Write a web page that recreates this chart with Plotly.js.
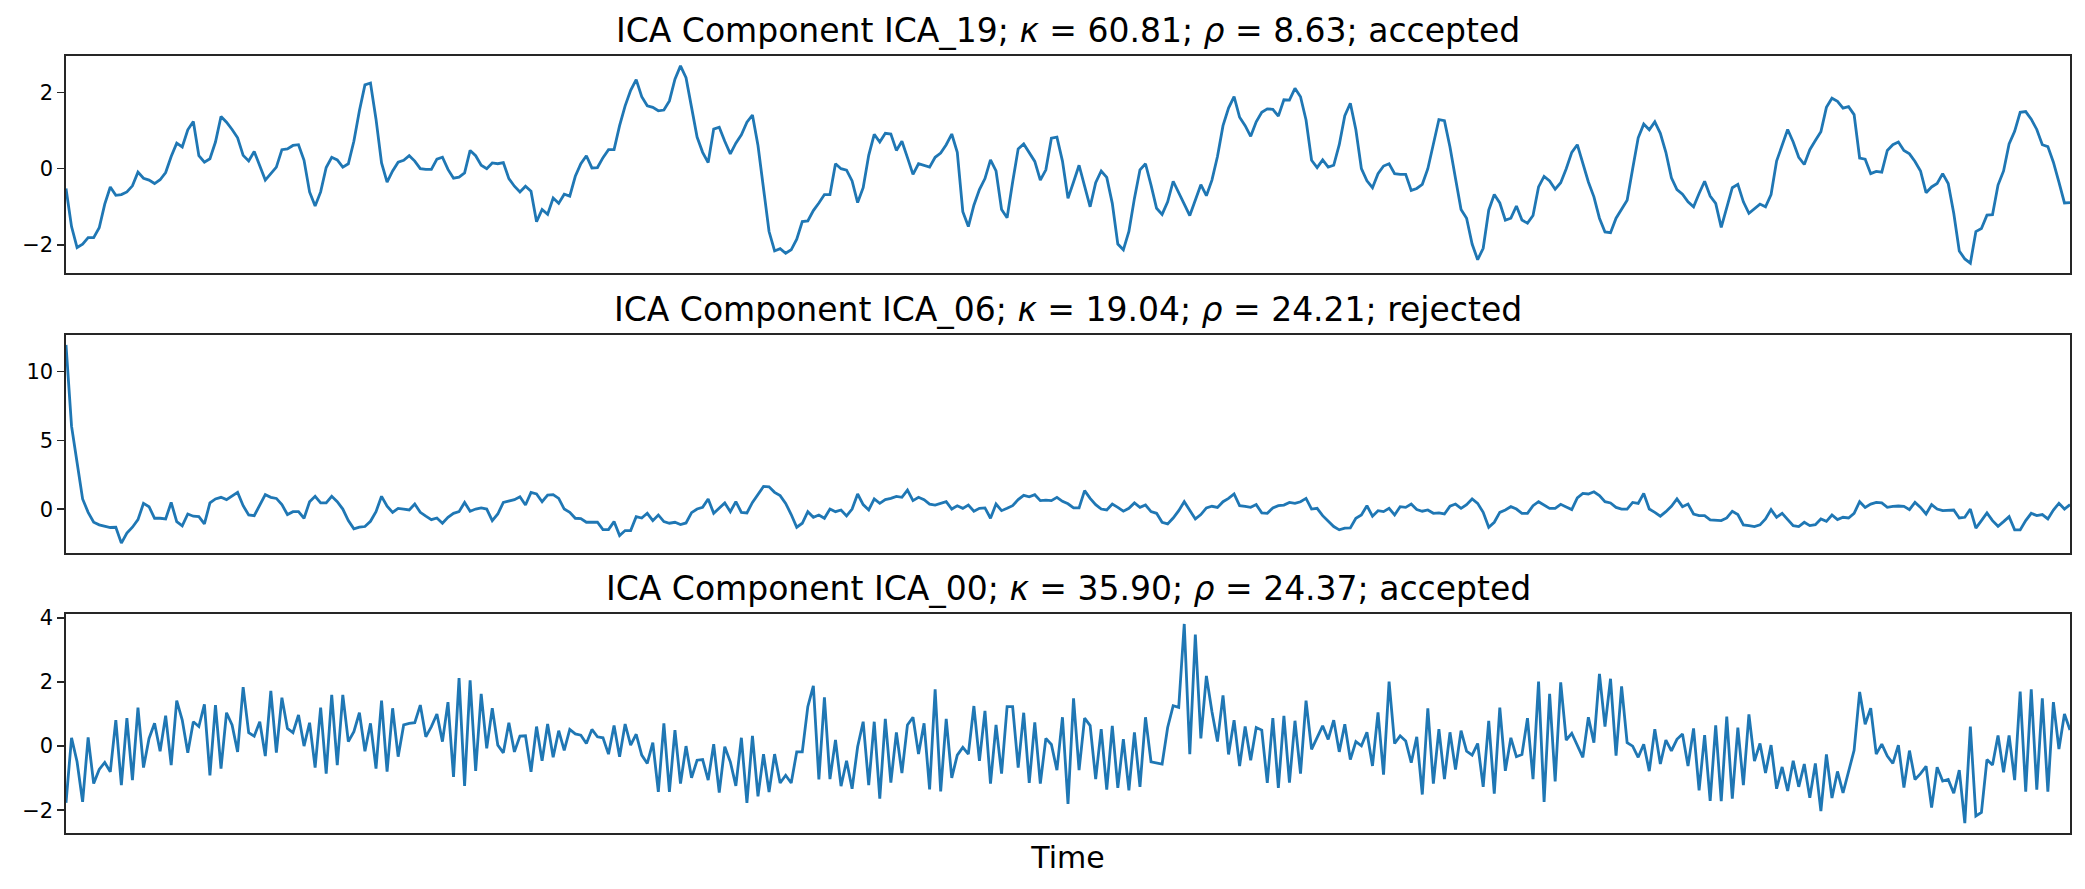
<!DOCTYPE html>
<html>
<head>
<meta charset="utf-8">
<script src="https://cdn.plot.ly/plotly-3.0.1.min.js"></script>
<style>html,body{margin:0;padding:0;background:#fff;}#chart{width:2085px;height:889px;}</style>
</head>
<body>
<div id="chart"></div>
<script>
// ---- Data ----
const titles = [
  "ICA Component ICA_19; <i>κ</i> = 60.81; <i>ρ</i> = 8.63; accepted",
  "ICA Component ICA_06; <i>κ</i> = 19.04; <i>ρ</i> = 24.21; rejected",
  "ICA Component ICA_00; <i>κ</i> = 35.90; <i>ρ</i> = 24.37; accepted"
];
const xLabel = "Time";

const ica19 = [
-0.52,-1.52,-2.07,-1.98,-1.81,-1.81,-1.55,-0.93,-0.48,-0.70,
-0.68,-0.61,-0.45,-0.09,-0.25,-0.30,-0.39,-0.29,-0.10,0.32,
0.67,0.57,1.02,1.24,0.34,0.17,0.26,0.70,1.37,1.22,
1.03,0.81,0.35,0.20,0.45,0.09,-0.30,-0.13,0.04,0.50,
0.52,0.61,0.63,0.22,-0.61,-0.98,-0.61,0.03,0.30,0.23,
0.04,0.13,0.72,1.52,2.20,2.25,1.30,0.15,-0.35,-0.06,
0.17,0.22,0.34,0.20,0.00,-0.02,-0.02,0.25,0.30,-0.02,
-0.25,-0.22,-0.11,0.48,0.34,0.09,0.00,0.15,0.13,0.16,
-0.26,-0.46,-0.61,-0.46,-0.59,-1.39,-1.07,-1.20,-0.77,-0.91,
-0.67,-0.72,-0.20,0.13,0.34,0.02,0.03,0.29,0.50,0.50,
1.13,1.65,2.06,2.34,1.89,1.65,1.61,1.52,1.54,1.78,
2.35,2.70,2.39,1.61,0.83,0.43,0.16,1.04,1.09,0.72,
0.39,0.67,0.89,1.22,1.41,0.61,-0.57,-1.65,-2.16,-2.10,
-2.22,-2.13,-1.85,-1.39,-1.37,-1.10,-0.90,-0.68,-0.68,0.13,
0.00,-0.04,-0.32,-0.89,-0.50,0.35,0.90,0.70,0.93,0.91,
0.48,0.72,0.29,-0.15,0.13,0.09,0.04,0.30,0.41,0.63,
0.91,0.43,-1.13,-1.52,-0.96,-0.55,-0.26,0.23,-0.06,-1.07,
-1.29,-0.35,0.52,0.65,0.43,0.19,-0.30,-0.03,0.80,0.83,
0.20,-0.78,-0.35,0.09,-0.46,-1.00,-0.37,-0.06,-0.23,-0.91,
-1.98,-2.13,-1.65,-0.78,-0.03,0.13,-0.43,-1.04,-1.20,-0.87,
-0.33,-0.61,-0.93,-1.23,-0.83,-0.42,-0.71,-0.30,0.32,1.13,
1.59,1.89,1.35,1.13,0.85,1.23,1.48,1.57,1.56,1.38,
1.81,1.80,2.11,1.89,1.28,0.22,0.03,0.23,0.04,0.09,
0.63,1.39,1.72,1.02,0.00,-0.32,-0.50,-0.13,0.07,0.13,
-0.13,-0.15,-0.15,-0.57,-0.52,-0.41,0.00,0.65,1.29,1.26,
0.57,-0.26,-1.07,-1.30,-1.98,-2.39,-2.09,-1.09,-0.68,-0.90,
-1.35,-1.30,-0.98,-1.35,-1.43,-1.23,-0.48,-0.20,-0.32,-0.54,
-0.37,0.00,0.43,0.63,0.17,-0.35,-0.74,-1.30,-1.66,-1.68,
-1.30,-1.07,-0.83,0.00,0.81,1.17,1.02,1.23,0.93,0.43,
-0.24,-0.55,-0.67,-0.87,-1.00,-0.65,-0.33,-0.72,-0.91,-1.54,
-1.02,-0.50,-0.41,-0.87,-1.17,-1.06,-0.93,-1.00,-0.68,0.20,
0.63,1.03,0.70,0.30,0.11,0.50,0.74,0.97,1.61,1.85,
1.77,1.59,1.63,1.42,0.28,0.25,-0.13,-0.07,-0.09,0.48,
0.63,0.70,0.48,0.39,0.19,-0.06,-0.63,-0.48,-0.39,-0.13,
-0.39,-1.17,-2.16,-2.37,-2.48,-1.65,-1.57,-1.22,-1.21,-0.43,
-0.06,0.65,0.98,1.48,1.50,1.30,1.03,0.63,0.58,0.17,
-0.35,-0.90,-0.89
];

const ica06 = [
11.92,6.03,3.39,0.75,-0.22,-0.94,-1.13,-1.25,-1.32,-1.30,
-2.45,-1.73,-1.30,-0.75,0.43,0.19,-0.65,-0.65,-0.70,0.50,
-0.89,-1.20,-0.34,-0.50,-0.53,-1.06,0.46,0.75,0.87,0.70,
0.94,1.23,0.26,-0.41,-0.46,0.26,1.06,0.87,0.79,0.34,
-0.38,-0.17,-0.17,-0.65,0.55,0.94,0.46,0.46,0.94,0.55,
0.02,-0.82,-1.42,-1.30,-1.25,-0.87,-0.17,0.94,0.22,-0.22,
0.07,0.02,-0.05,0.38,-0.22,-0.50,-0.75,-0.63,-1.01,-0.58,
-0.29,-0.17,0.50,-0.14,0.02,0.10,0.02,-0.82,-0.34,0.50,
0.58,0.70,0.91,0.31,1.23,1.11,0.55,1.03,1.06,0.79,
0.02,-0.22,-0.65,-0.67,-0.94,-0.96,-0.94,-1.47,-1.47,-0.89,
-1.90,-1.54,-1.54,-0.53,-0.63,-0.29,-0.82,-0.41,-0.89,-1.01,
-0.94,-1.11,-0.99,-0.24,0.02,0.14,0.75,-0.29,0.10,0.46,
-0.17,0.55,-0.22,-0.26,0.50,1.06,1.66,1.63,1.23,0.99,
0.43,-0.38,-1.30,-1.01,-0.17,-0.58,-0.41,-0.65,0.02,-0.17,
-0.05,-0.48,0.02,1.11,0.34,-0.05,0.75,0.43,0.70,0.79,
0.94,0.87,1.39,0.63,0.87,0.70,0.38,0.31,0.43,0.55,
0.02,0.26,0.07,0.31,-0.14,0.07,0.10,-0.65,0.38,-0.10,
0.07,0.26,0.70,1.01,0.91,1.06,0.63,0.67,0.63,0.87,
0.58,0.40,0.10,0.10,1.35,0.79,0.34,0.02,-0.05,0.38,
0.14,-0.14,0.07,0.46,0.14,0.31,-0.17,-0.29,-0.94,-1.06,
-0.63,-0.10,0.55,-0.10,-0.70,-0.38,0.10,0.22,0.14,0.55,
0.79,1.11,0.26,0.22,0.14,0.34,-0.26,-0.29,0.10,0.26,
0.31,0.50,0.43,0.55,0.79,0.02,0.07,-0.46,-0.82,-1.25,
-1.49,-1.37,-1.35,-0.65,-0.41,0.26,-0.50,-0.10,-0.17,0.07,
-0.41,0.19,0.14,0.38,-0.02,-0.14,-0.05,-0.29,-0.26,-0.34,
0.22,0.38,0.07,0.34,0.75,0.43,-0.22,-1.30,-0.94,-0.22,
-0.05,0.19,0.02,-0.29,-0.29,0.26,0.55,0.34,0.07,0.07,
0.36,0.17,-0.02,0.82,1.15,1.11,1.27,0.99,0.55,0.46,
0.14,0.02,0.02,0.50,0.43,1.15,0.02,-0.22,-0.50,-0.17,
0.22,0.75,0.19,0.38,-0.34,-0.46,-0.46,-0.77,-0.82,-0.82,
-0.63,-0.14,-0.38,-1.13,-1.18,-1.25,-1.13,-0.70,-0.02,-0.58,
-0.29,-0.70,-1.18,-1.25,-0.94,-1.18,-1.11,-0.70,-0.87,-0.41,
-0.75,-0.58,-0.63,-0.29,0.55,0.14,0.38,0.50,0.46,0.14,
0.22,0.24,0.22,-0.02,0.50,0.14,-0.34,0.34,0.02,-0.10,
-0.10,-0.05,-0.63,-0.58,0.02,-1.37,-0.82,-0.26,-0.82,-1.23,
-0.89,-0.53,-1.49,-1.49,-0.82,-0.29,-0.46,-0.38,-0.70,-0.05,
0.43,0.02,0.34
];

const ica00 = [
-1.77,0.26,-0.49,-1.74,0.27,-1.17,-0.73,-0.51,-0.80,0.81,
-1.22,0.87,-1.06,1.20,-0.67,0.24,0.71,-0.16,0.95,-0.59,
1.42,0.81,-0.21,0.76,0.61,1.30,-0.91,1.28,-0.70,1.04,
0.66,-0.18,1.84,0.42,0.31,0.76,-0.31,1.72,-0.20,1.51,
0.55,0.42,0.97,0.00,0.73,-0.67,1.20,-0.86,1.60,-0.59,
1.60,0.14,0.45,1.04,-0.16,0.71,-0.70,1.42,-0.80,1.18,
-0.33,0.66,0.71,0.73,1.28,0.29,0.61,1.00,0.14,1.37,
-0.96,2.12,-1.24,2.05,-0.77,1.63,-0.07,1.18,0.03,-0.21,
0.73,-0.18,0.31,0.32,-0.80,0.61,-0.46,0.69,-0.35,0.48,
-0.13,0.52,0.38,0.34,0.08,0.52,0.29,0.26,-0.25,0.64,
-0.33,0.69,0.03,0.37,-0.28,-0.54,0.11,-1.43,0.71,-1.43,
0.50,-1.17,0.00,-0.99,-0.44,-0.42,-1.06,0.06,-1.45,-0.02,
-0.49,-1.24,0.26,-1.77,0.32,-1.57,-0.25,-1.43,-0.25,-1.15,
-0.91,-1.15,-0.18,-0.18,1.23,1.88,-1.04,1.52,-1.03,0.19,
-1.25,-0.46,-1.33,-0.02,0.76,-1.22,0.76,-1.64,0.85,-1.14,
0.43,-0.84,0.66,0.90,-0.25,0.71,-1.35,1.77,-1.41,0.85,
-0.99,-0.28,-0.04,-0.25,1.25,-0.46,1.10,-1.17,0.66,-0.86,
1.23,1.23,-0.67,1.04,-1.15,0.74,-1.17,0.24,0.05,-0.75,
0.90,-1.80,1.49,-0.75,0.87,0.64,-1.03,0.53,-1.36,0.63,
-1.30,0.22,-1.38,0.43,-1.27,0.90,-0.49,-0.52,-0.56,0.58,
1.26,1.21,3.81,-0.25,3.48,0.24,2.19,1.08,0.14,1.58,
-0.26,0.81,-0.62,0.61,-0.44,0.58,0.50,-1.15,0.87,-1.30,
0.94,-1.14,0.79,-0.86,1.42,-0.10,0.24,0.63,0.21,0.81,
-0.18,0.68,-0.42,0.14,0.01,0.43,-0.62,1.05,-0.89,2.01,
0.08,0.32,0.16,-0.52,0.29,-1.51,1.18,-1.17,0.53,-1.03,
0.43,-0.73,0.48,-0.16,-0.28,0.08,-1.27,0.79,-1.48,1.20,
-0.77,0.26,-0.33,-0.26,0.87,-1.03,2.01,-1.74,1.63,-1.10,
1.99,0.19,0.40,0.03,-0.35,0.90,0.11,2.25,0.61,2.10,
-0.30,1.86,0.11,0.00,-0.35,0.06,-0.78,0.53,-0.56,0.19,
-0.15,0.21,0.38,-0.62,0.55,-1.38,0.34,-1.71,0.65,-1.72,
0.92,-1.64,0.58,-1.22,0.99,-0.47,0.08,-0.84,0.03,-1.33,
-0.65,-1.40,-0.46,-1.27,-0.56,-1.61,-0.54,-2.03,-0.26,-1.62,
-0.79,-1.46,-0.78,-0.13,1.69,0.68,1.18,-0.25,0.06,-0.31,
-0.54,0.03,-1.29,-0.14,-1.04,-0.86,-0.63,-1.92,-0.66,-1.09,
-1.04,-1.47,-0.75,-2.40,0.61,-2.18,-2.07,-0.42,-0.59,0.33,
-0.82,0.33,-1.06,1.70,-1.42,1.77,-1.36,1.49,-1.42,1.37,
-0.09,1.00,0.50
];

const yTicks19 = [-2, 0, 2];
const yTicks06 = [0, 5, 10];
const yTicks00 = [-2, 0, 2, 4];

// ---- Build chart ----
const series = [ica19, ica06, ica00];
const tickSets = [yTicks19, yTicks06, yTicks00];
const W = 2085, H = 889;
const xDom = [66 / W, 2070 / W];
// panel pixel extents (top, bottom)
const panels = [[56, 273], [335, 553], [614, 833]];
const yDoms = panels.map(p => [1 - p[1] / H, 1 - p[0] / H]);

function pad(arr) {
  const mn = Math.min(...arr), mx = Math.max(...arr);
  const m = 0.05 * (mx - mn);
  return [mn - m, mx + m];
}

const lineColor = '#1f77b4';
const axColor = '#262626';
const traces = [];
const layout = {
  width: W, height: H, autosize: false,
  margin: {l: 0, r: 0, t: 0, b: 0},
  paper_bgcolor: '#ffffff', plot_bgcolor: '#ffffff',
  showlegend: false,
  font: {family: 'DejaVu Sans', color: '#000000', size: 21},
  annotations: []
};

series.forEach((s, k) => {
  const n = k + 1;
  const xs = s.map((_, i) => i);
  const xa = n === 1 ? 'x' : 'x' + n;
  const ya = n === 1 ? 'y' : 'y' + n;
  traces.push({
    x: xs, y: s, type: 'scatter', mode: 'lines',
    xaxis: xa, yaxis: ya,
    line: {color: lineColor, width: 2.8},
    hoverinfo: 'skip'
  });
  const xKey = n === 1 ? 'xaxis' : 'xaxis' + n;
  const yKey = n === 1 ? 'yaxis' : 'yaxis' + n;
  layout[xKey] = {
    domain: xDom, anchor: ya, range: [0, s.length - 1],
    showticklabels: false, ticks: '', showgrid: false, zeroline: false,
    showline: true, mirror: true, linecolor: axColor, linewidth: 1.6,
    title: n === 3 ? {text: xLabel, font: {size: 30, family: 'DejaVu Sans'}, standoff: 13} : {text: ''}
  };
  layout[yKey] = {
    domain: yDoms[k], anchor: xa, range: pad(s),
    tickmode: 'array', tickvals: tickSets[k],
    ticks: 'outside', ticklen: 7, tickwidth: 1.6, tickcolor: axColor,
    showgrid: false, zeroline: false,
    showline: true, mirror: true, linecolor: axColor, linewidth: 1.6,
    tickfont: {size: 21, family: 'DejaVu Sans', color: '#000'}
  };
  layout.annotations.push({
    text: titles[k], xref: 'paper', yref: 'paper',
    x: (xDom[0] + xDom[1]) / 2, y: yDoms[k][1],
    xanchor: 'center', yanchor: 'bottom', yshift: 4, showarrow: false,
    font: {size: 33, family: 'DejaVu Sans', color: '#000'}
  });
});

Plotly.newPlot('chart', traces, layout, {staticPlot: true, displayModeBar: false});
</script>
</body>
</html>
